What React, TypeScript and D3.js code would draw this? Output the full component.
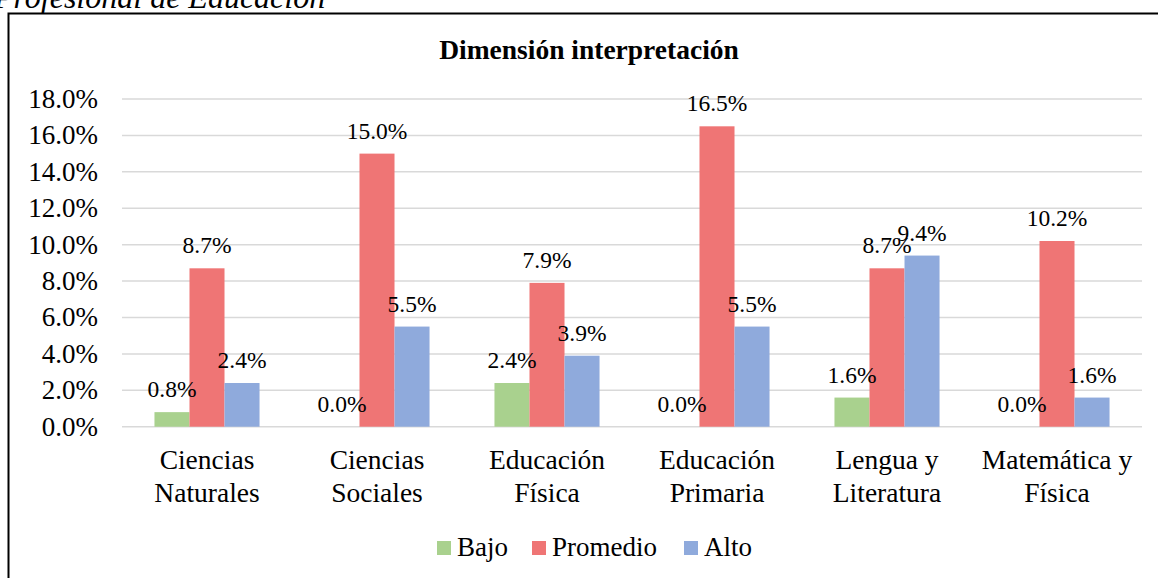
import * as d3 from "d3";
import { useEffect, useRef } from "react";

const categories = [
  ["Ciencias", "Naturales"],
  ["Ciencias", "Sociales"],
  ["Educación", "Física"],
  ["Educación", "Primaria"],
  ["Lengua y", "Literatura"],
  ["Matemática y", "Física"],
];
const seriesNames = ["Bajo", "Promedio", "Alto"];
const colors = ["#A9D18E", "#EF7575", "#8FAADC"];
const bajo = [0.8, 0.0, 2.4, 0.0, 1.6, 0.0];
const promedio = [8.7, 15.0, 7.9, 16.5, 8.7, 10.2];
const alto = [2.4, 5.5, 3.9, 5.5, 9.4, 1.6];
const yTicks = [0, 2, 4, 6, 8, 10, 12, 14, 16, 18];

const serif = "'Liberation Serif', 'Times New Roman', serif";

export default function App() {
  const ref = useRef<SVGSVGElement>(null);

  useEffect(() => {
    document.body.style.margin = "0";
    const width = 1158;
    const height = 578;
    const svg = d3.select(ref.current).attr("width", width).attr("height", height);
    svg.selectAll("*").remove();

    const values = [bajo, promedio, alto];
    const keys = categories.map((c) => c.join(" "));

    const x0 = d3.scaleBand().domain(keys).range([122, 1142]).paddingInner(0.382).paddingOuter(0.191);
    const x1 = d3.scaleBand().domain(seriesNames).range([0, x0.bandwidth()]);
    const y = d3.scaleLinear().domain([0, 18]).range([426.7, 99]);

    // caption above the chart (cut off in the source)
    svg
      .append("text")
      .attr("x", -6)
      .attr("y", 8)
      .attr("font-family", serif)
      .attr("font-style", "italic")
      .attr("font-size", 32)
      .text("Profesional de Educación");

    // chart frame
    svg
      .append("rect")
      .attr("x", 8.5)
      .attr("y", 13.5)
      .attr("width", 1200)
      .attr("height", 700)
      .attr("fill", "white")
      .attr("stroke", "black")
      .attr("stroke-width", 2);

    svg
      .append("text")
      .attr("x", 589)
      .attr("y", 59)
      .attr("text-anchor", "middle")
      .attr("font-family", serif)
      .attr("font-weight", "bold")
      .attr("font-size", 27.5)
      .text("Dimensión interpretación");

    // gridlines
    svg
      .append("g")
      .selectAll("line")
      .data(yTicks)
      .join("line")
      .attr("x1", 122)
      .attr("x2", 1142)
      .attr("y1", (d) => y(d))
      .attr("y2", (d) => y(d))
      .attr("stroke", "#D9D9D9")
      .attr("stroke-width", 1.5);

    svg
      .append("g")
      .attr("text-anchor", "end")
      .attr("font-family", serif)
      .attr("font-size", 27)
      .selectAll("text")
      .data(yTicks)
      .join("text")
      .attr("x", 98)
      .attr("y", (d) => y(d) + 9)
      .text((d) => d.toFixed(1) + "%");

    // bars
    const groups = svg
      .append("g")
      .selectAll("g")
      .data(keys)
      .join("g")
      .attr("transform", (d) => `translate(${x0(d)},0)`);

    groups
      .selectAll("rect")
      .data((_, i) => seriesNames.map((s, j) => ({ s, j, v: values[j][i] })))
      .join("rect")
      .attr("x", (d) => x1(d.s)!)
      .attr("width", x1.bandwidth())
      .attr("y", (d) => y(d.v))
      .attr("height", (d) => y(0) - y(d.v))
      .attr("fill", (d) => colors[d.j]);

    groups
      .selectAll("text")
      .data((_, i) => seriesNames.map((s, j) => ({ s, j, v: values[j][i] })))
      .join("text")
      .attr("x", (d) => x1(d.s)! + x1.bandwidth() / 2)
      .attr("y", (d) => y(d.v) - 15)
      .attr("text-anchor", "middle")
      .attr("font-family", serif)
      .attr("font-size", 23.5)
      .text((d) => d.v.toFixed(1) + "%");

    // category labels
    svg
      .append("g")
      .attr("text-anchor", "middle")
      .attr("font-family", serif)
      .attr("font-size", 27.5)
      .selectAll("text")
      .data(categories)
      .join("text")
      .attr("x", (d) => x0(d.join(" "))! + x0.bandwidth() / 2)
      .attr("y", 469)
      .call((t) => t.append("tspan").text((d) => d[0]))
      .call((t) =>
        t
          .append("tspan")
          .attr("x", (d) => x0(d.join(" "))! + x0.bandwidth() / 2)
          .attr("dy", 33)
          .text((d) => d[1])
      );

    // legend
    const legendX = [437, 532, 684];
    const legend = svg
      .append("g")
      .selectAll("g")
      .data(seriesNames)
      .join("g")
      .attr("transform", (_, i) => `translate(${legendX[i]},541)`);
    legend
      .append("rect")
      .attr("width", 14)
      .attr("height", 14)
      .attr("fill", (_, i) => colors[i]);
    legend
      .append("text")
      .attr("x", 20)
      .attr("y", 15)
      .attr("font-family", serif)
      .attr("font-size", 27)
      .text((d) => d);
  }, []);

  return <svg ref={ref}></svg>;
}
